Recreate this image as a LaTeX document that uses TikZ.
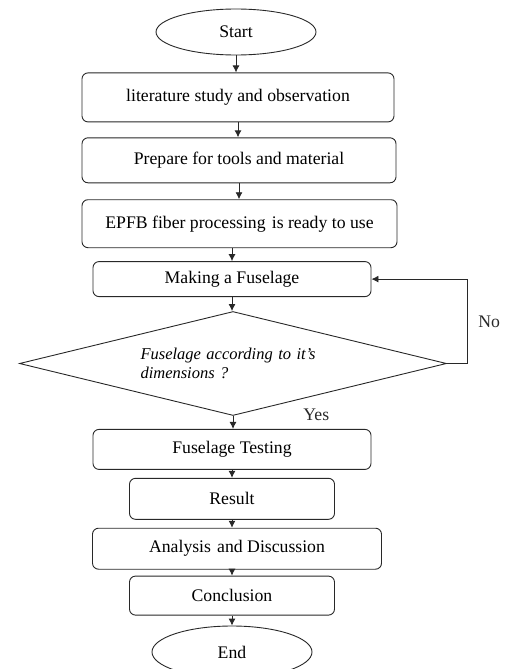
\documentclass[tikz,border=0pt]{standalone}
\usepackage{fontspec}
\setmainfont{Liberation Serif}
\definecolor{linegray}{RGB}{40,40,40}
\usetikzlibrary{arrows.meta,positioning,shapes.geometric}

\begin{document}
\begin{tikzpicture}[
      x=1pt, y=1pt,
      arr/.style={-{Latex[length=7pt,width=7pt]}, line width=0.9pt, linegray},
      stepbox/.style={draw=linegray, line width=0.9pt, rounded corners=6pt,
                      align=center, inner sep=2pt, font=\fontsize{17.7}{20}\selectfont},
      term/.style={draw=linegray, line width=0.9pt, ellipse, inner sep=0pt,
                   minimum width=160pt, font=\fontsize{17.7}{20}\selectfont},
      decide/.style={draw=linegray, line width=0.9pt, diamond, aspect=4.1, inner sep=0pt,
                     minimum width=427pt, minimum height=104pt, align=left, text width=185pt,
                     font=\fontsize{16.5}{19}\selectfont\itshape},
      lbl/.style={font=\fontsize{17.7}{20}\selectfont, inner sep=2pt}
    ]
    \useasboundingbox (0,0) rectangle (505,-669);
    \node[term, minimum height=46pt] (start) at (236,-32) {Start};
    \node[stepbox, below=17pt of start, xshift=2pt, minimum width=312pt, minimum height=49pt] (lit) {literature study and observation};
    \node[stepbox, below=15pt of lit, xshift=1pt, minimum width=314pt, minimum height=45pt] (prep) {Prepare for tools and material};
    \node[stepbox, below=16pt of prep, xshift=0.5pt, minimum width=315pt, minimum height=48pt] (fiber) {EPFB fiber processing\hspace{0.35em}is ready to use};
    \node[stepbox, below=13pt of fiber, xshift=-7.5pt, minimum width=278pt, minimum height=35pt] (make) {Making a Fuselage};
    \node[decide, below=14pt of make, xshift=1pt] (dec) {Fuselage according to it's\\dimensions ?};
    \node[stepbox, below=13pt of dec, xshift=-1pt, minimum width=278pt, minimum height=40pt] (test) {Fuselage Testing};
    \node[stepbox, below=8pt of test, minimum width=205pt, minimum height=41pt] (res) {Result};
    \node[stepbox, below=8pt of res, xshift=5pt, minimum width=289pt, minimum height=41pt] (ana) {Analysis\hspace{0.35em}and Discussion};
    \node[stepbox, below=6pt of ana, xshift=-5pt, minimum width=205pt, minimum height=39pt] (concl) {Conclusion};
    \node[term, below=10pt of concl, minimum height=52pt] (end) {End};

    \draw[arr] (start.south) -- (start.south |- lit.north);
    \draw[arr] (lit.south) -- (lit.south |- prep.north);
    \draw[arr] (prep.south) -- (prep.south |- fiber.north);
    \draw[arr] (make.north |- fiber.south) -- (make.north);
    \draw[arr] (make.south) -- (make.south |- dec.north);
    \draw[arr] (dec.south) -- (dec.south |- test.north)
      node[pos=0, anchor=west, xshift=68pt, yshift=1pt, lbl] {Yes};
    \draw[arr] (test.south) -- (test.south |- res.north);
    \draw[arr] (res.south) -- (res.south |- ana.north);
    \draw[arr] (concl.north |- ana.south) -- (concl.north);
    \draw[arr] (concl.south) -- (concl.south |- end.north);
    % loop back when the size is wrong
    \draw[arr] (dec.east) -- ++(20,0) |- (make.east)
      node[pos=0.25, right=9pt, lbl] {No};
  \end{tikzpicture}
\end{document}
